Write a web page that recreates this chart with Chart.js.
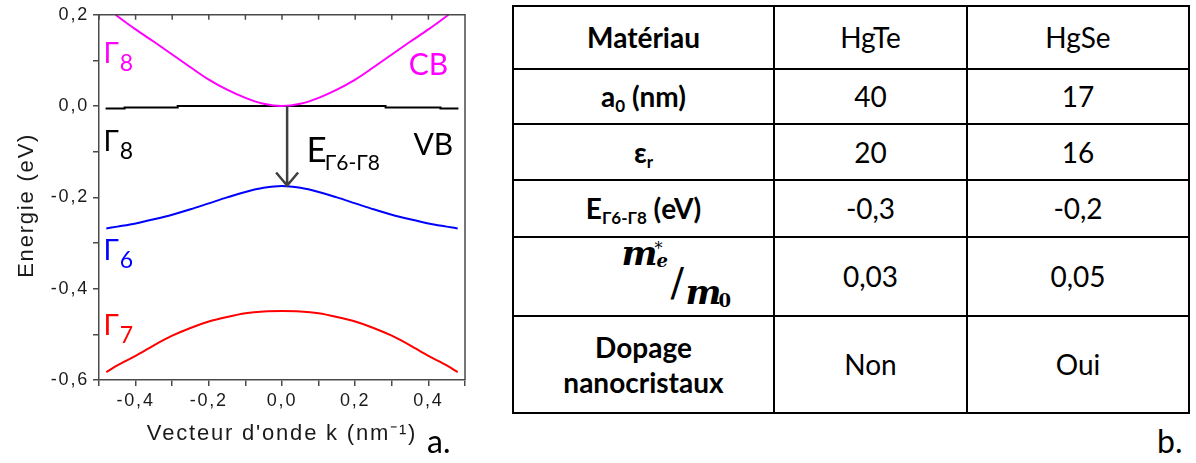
<!DOCTYPE html>
<html>
<head>
<meta charset="utf-8">
<script src="https://cdn.jsdelivr.net/npm/chart.js@4.4.0/dist/chart.umd.min.js"></script>
<style>
body { margin:0; background:#fff; width:1196px; height:463px; position:relative; overflow:hidden; font-family: Lato, "Open Sans", sans-serif; }
#wrap { position:absolute; left:0; top:0; width:480px; height:463px; }
.tag { position:absolute; font:32px/38px Lato, "Open Sans", sans-serif; color:#000; }
table { position:absolute; left:512px; top:5px; border-collapse:collapse; table-layout:fixed; }
td { border:2px solid #000; text-align:center; vertical-align:middle; font-size:28px; padding:0; line-height:35px; color:#000; }
td.b { font-weight:bold; }
td sub { font-size:17px; vertical-align:-5px; line-height:0; }
tr:nth-child(1) td { height:61px; }
tr:nth-child(2) td { height:53px; }
tr:nth-child(3) td { height:54px; }
tr:nth-child(4) td { height:55px; }
tr:nth-child(5) td { height:77px; }
tr:nth-child(6) td { height:95px; }
.mx { display:inline-block; position:relative; width:112px; height:77px; left:34px; vertical-align:middle; font-family:"DejaVu Serif", serif; font-weight:bold; line-height:1; text-align:left; }
.mx span { position:absolute; white-space:nowrap; }
</style>
</head>
<body>
<div id="wrap"><canvas id="bands" width="480" height="463"></canvas></div>
<div class="tag" style="left:427px; top:422px;">a.</div>
<div class="tag" style="left:1157px; top:422px;">b.</div>
<table id="tab">
<colgroup><col style="width:261px"><col style="width:193px"><col style="width:222px"></colgroup>
<tbody></tbody>
</table>
<script>
// band structure: k in nm^-1, E in eV
var kCB = [-0.455, -0.40, -0.35, -0.30, -0.25, -0.20, -0.15, -0.10, -0.05, 0, 0.05, 0.10, 0.15, 0.20, 0.25, 0.30, 0.35, 0.40, 0.455];
var eCB = [0.200, 0.168, 0.141, 0.113, 0.085, 0.058, 0.036, 0.018, 0.005, 0, 0.005, 0.018, 0.036, 0.058, 0.085, 0.113, 0.141, 0.168, 0.200];

var kVB = [-0.482, -0.43, -0.285, 0.283, 0.433, 0.482];
var eVB = [-0.005, -0.003, 0, -0.003, -0.005, -0.005];

var kLow = [-0.48, -0.45, -0.40, -0.35, -0.30, -0.25, -0.20, -0.15, -0.10, -0.05, 0, 0.05, 0.10, 0.15, 0.20, 0.25, 0.30, 0.35, 0.40, 0.45, 0.48];
var eG6 = [-0.268, -0.264, -0.257, -0.248, -0.238, -0.226, -0.213, -0.200, -0.188, -0.179, -0.175, -0.179, -0.188, -0.200, -0.213, -0.226, -0.238, -0.248, -0.257, -0.264, -0.268];
var eG7 = [-0.583, -0.568, -0.547, -0.524, -0.503, -0.486, -0.472, -0.462, -0.454, -0.450, -0.449, -0.450, -0.454, -0.462, -0.472, -0.486, -0.503, -0.524, -0.547, -0.568, -0.583];

// gap arrow (k, from E, to E)
var gapArrow = [0.014, 0, -0.176];

// band labels: text, subscript, k, E (baseline), colour
var bandLabels = [
    ['Γ', '8', -0.488, 0.095, '#ff00ff'],
    ['Γ', '8', -0.488, -0.099, '#000000'],
    ['Γ', '6', -0.488, -0.338, '#0000ff'],
    ['Γ', '7', -0.488, -0.502, '#ff0000']
];
var bigLabels = [
    ['CB', '', 0.346, 0.069, '#ff00ff'],
    ['VB', '', 0.359, -0.108, '#000000'],
    ['E', 'Γ6-Γ8', 0.067, -0.1235, '#000000']
];

// table b.
var colHead = ['Matériau', 'HgTe', 'HgSe'];
var rowHead = ['a<sub>0</sub> (nm)', 'ε<sub>r</sub>', 'E<sub>Γ6-Γ8</sub> (eV)', 'MEFF', 'Dopage<br>nanocristaux'];
var valHgTe = ['40', '20', '-0,3', '0,03', 'Non'];
var valHgSe = ['17', '16', '-0,2', '0,05', 'Oui'];

function pts(ks, es) {
    return ks.map(function (k, i) { return {x: k, y: es[i]}; });
}

function comma(v) {
    var n = Math.round(v * 10);
    if (n % 2 !== 0) return '';
    return (n / 10).toFixed(1).replace('.', ',');
}

var axisColor = '#4a4a4a';
var labelFont = 'Lato, "Open Sans", sans-serif';

var decor = {
    id: 'decor',
    beforeDraw: function (chart) {
        chart.ctx.letterSpacing = '1.8px';
    },
    afterDraw: function (chart) {
        var ctx = chart.ctx, a = chart.chartArea, x = chart.scales.x, y = chart.scales.y;
        ctx.save();
        ctx.letterSpacing = '0px';
        ctx.strokeStyle = axisColor;
        ctx.lineWidth = 1.5;
        ctx.beginPath();
        ctx.moveTo(a.left, a.top);
        ctx.lineTo(a.right, a.top);
        ctx.lineTo(a.right, a.bottom);
        x.ticks.forEach(function (t) {
            var px = x.getPixelForValue(t.value);
            ctx.moveTo(px, a.top);
            ctx.lineTo(px, a.top + 5);
        });
        ctx.stroke();

        // arrow
        var ax = x.getPixelForValue(gapArrow[0]);
        var y0 = y.getPixelForValue(gapArrow[1]);
        var y1 = y.getPixelForValue(gapArrow[2]);
        ctx.strokeStyle = '#404040';
        ctx.lineWidth = 2.5;
        ctx.beginPath();
        ctx.moveTo(ax, y0);
        ctx.lineTo(ax, y1 - 1);
        ctx.moveTo(ax - 11, y1 - 14);
        ctx.lineTo(ax, y1 - 1);
        ctx.lineTo(ax + 11, y1 - 14);
        ctx.stroke();

        ctx.textBaseline = 'alphabetic';
        ctx.textAlign = 'left';
        bandLabels.forEach(function (l) {
            var px = x.getPixelForValue(l[2]), py = y.getPixelForValue(l[3]);
            ctx.fillStyle = l[4];
            ctx.font = '28px ' + labelFont;
            ctx.fillText(l[0], px, py);
            var w = ctx.measureText(l[0]).width;
            ctx.font = '23px ' + labelFont;
            ctx.fillText(l[1], px + w + 1, py + 8);
        });
        bigLabels.forEach(function (l) {
            var px = x.getPixelForValue(l[2]), py = y.getPixelForValue(l[3]);
            ctx.fillStyle = l[4];
            var big = l[1] ? 35 : 30;
            ctx.font = big + 'px ' + labelFont;
            ctx.fillText(l[0], px, py);
            if (l[1]) {
                var w = ctx.measureText(l[0]).width;
                ctx.font = '21px ' + labelFont;
                ctx.fillText(l[1], px + w - 2, py + 8);
            }
        });
        ctx.restore();
    }
};

var tickFont = {family: '"Liberation Sans", Arial, sans-serif', size: 18};
var titleFont = {family: '"Liberation Sans", Arial, sans-serif', size: 22};

var ctx1 = document.getElementById('bands');
var bandChart = new Chart(ctx1, {
    type: 'line',
    data: {
        datasets: [
            {label: 'CB', data: pts(kCB, eCB), borderColor: '#ff00ff', borderWidth: 2, pointRadius: 0, cubicInterpolationMode: 'monotone'},
            {label: 'VB', data: pts(kVB, eVB), borderColor: '#000000', borderWidth: 2, pointRadius: 0, stepped: true},
            {label: 'G6', data: pts(kLow, eG6), borderColor: '#0000ff', borderWidth: 2, pointRadius: 0, cubicInterpolationMode: 'monotone'},
            {label: 'G7', data: pts(kLow, eG7), borderColor: '#ff0000', borderWidth: 2, pointRadius: 0, cubicInterpolationMode: 'monotone'}
        ]
    },
    options: {
        responsive: false,
        animation: false,
        layout: {padding: {top: 14, right: 15, left: 0, bottom: 0}},
        plugins: {legend: {display: false}, tooltip: {enabled: false}},
        scales: {
            x: {
                type: 'linear', min: -0.5, max: 0.5,
                afterFit: function (s) { s.height = 83; },
                ticks: {stepSize: 0.1, autoSkip: false, maxRotation: 0, padding: 4, color: '#1a1a1a', font: tickFont, callback: comma},
                grid: {drawOnChartArea: false, tickLength: 6, color: axisColor, lineWidth: 1.5},
                border: {color: axisColor, width: 1.5},
                title: {display: true, text: "Vecteur d'onde k (nm⁻¹)", color: '#1a1a1a', font: titleFont, padding: {bottom: 16}}
            },
            y: {
                type: 'linear', min: -0.6, max: 0.2,
                afterFit: function (s) { s.width = 99; },
                ticks: {stepSize: 0.1, autoSkip: false, padding: 4, color: '#1a1a1a', font: tickFont, callback: comma},
                grid: {drawOnChartArea: false, tickLength: 6, color: axisColor, lineWidth: 1.5},
                border: {color: axisColor, width: 1.5},
                title: {display: true, text: 'Energie (eV)  ', color: '#1a1a1a', font: titleFont, padding: {top: 14}}
            }
        }
    },
    plugins: [decor]
});

// table
var mexpr = '<div class="mx">' +
    '<span style="left:0;top:-2px;font-size:34px;font-style:italic">m</span>' +
    '<span style="left:33px;top:3px;font-size:16px;font-weight:normal">*</span>' +
    '<span style="left:35px;top:14px;font-size:18px;font-style:italic">e</span>' +
    '<span style="left:49px;top:24px;font-size:40px;font-weight:normal">/</span>' +
    '<span style="left:64px;top:37px;font-size:34px;font-style:italic">m</span>' +
    '<span style="left:97px;top:54px;font-size:18px">0</span>' +
    '</div>';
var tb = document.querySelector('#tab tbody');
var html = '<tr><td class="b">' + colHead[0] + '</td><td>' + colHead[1] + '</td><td>' + colHead[2] + '</td></tr>';
rowHead.forEach(function (r, i) {
    var head = r === 'MEFF' ? mexpr : r;
    html += '<tr><td class="b">' + head + '</td><td>' + valHgTe[i] + '</td><td>' + valHgSe[i] + '</td></tr>';
});
tb.innerHTML = html;
</script>
</body>
</html>
